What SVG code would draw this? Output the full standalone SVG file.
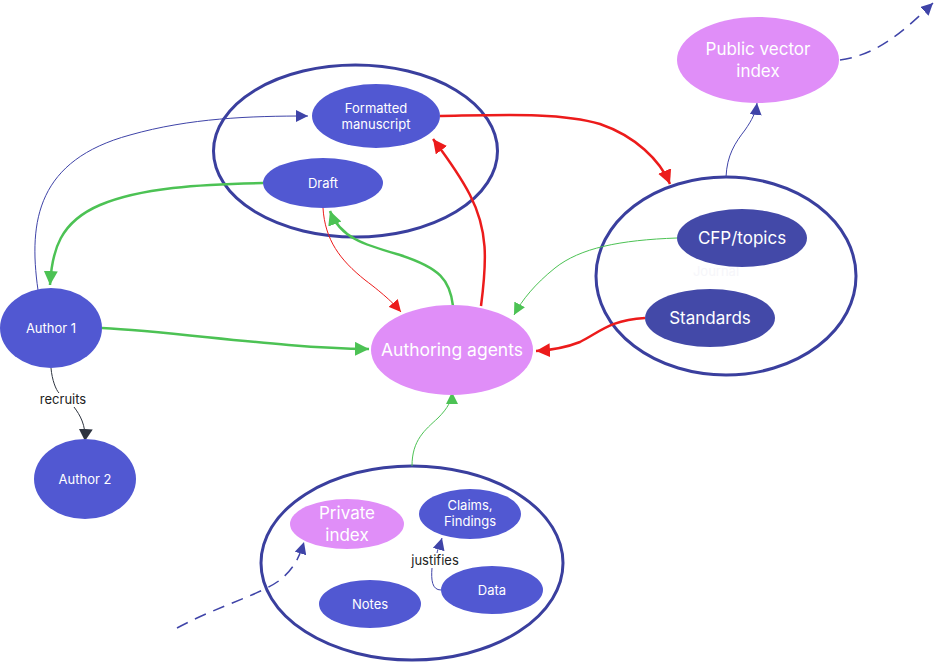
<svg xmlns="http://www.w3.org/2000/svg" width="936" height="662" viewBox="0 0 936 662">
<style>
.grp{fill:none;stroke:#3a3f9e;stroke-width:3}
.n{fill:#5158d2}
.d{fill:#4349a8}
.p{fill:#e08ef8}
.t{font-family:Inter,"Liberation Sans",sans-serif;fill:#ffffff;text-anchor:middle}
.lbl{font-family:Inter,"Liberation Sans",sans-serif;fill:#222;text-anchor:middle;font-size:13px}
.e{fill:none}
.g3{stroke:#4cc254;stroke-width:2.5}
.g1{stroke:#4cc254;stroke-width:1}
.r3{stroke:#ec1b1b;stroke-width:2.5}
.r1{stroke:#ec1b1b;stroke-width:1}
.b1{stroke:#3f44a8;stroke-width:1}
.bd{stroke:#3f44a8;stroke-width:1.5;stroke-dasharray:12 8}
.k1{stroke:#2e3440;stroke-width:1}
</style>
<defs>
<marker id="ag" markerUnits="userSpaceOnUse" markerWidth="16" markerHeight="14" refX="14" refY="7" orient="auto"><path d="M0,0 L14,7 L0,14 z" fill="#4cc254"/></marker>
<marker id="ags" markerUnits="userSpaceOnUse" markerWidth="14" markerHeight="12" refX="12" refY="6" orient="auto"><path d="M0,0 L12,6 L0,12 z" fill="#4cc254"/></marker>
<marker id="ar" markerUnits="userSpaceOnUse" markerWidth="16" markerHeight="14" refX="14" refY="7" orient="auto"><path d="M0,0 L14,7 L0,14 z" fill="#ec1b1b"/></marker>
<marker id="ars" markerUnits="userSpaceOnUse" markerWidth="14" markerHeight="12" refX="12" refY="6" orient="auto"><path d="M0,0 L12,6 L0,12 z" fill="#ec1b1b"/></marker>
<marker id="ab" markerUnits="userSpaceOnUse" markerWidth="14" markerHeight="12" refX="12" refY="6" orient="auto"><path d="M0,0 L12,6 L0,12 z" fill="#3f44a8"/></marker>
<marker id="ak" markerUnits="userSpaceOnUse" markerWidth="14" markerHeight="14" refX="12" refY="7" orient="auto"><path d="M0,0 L12,7 L0,14 z" fill="#2e3440"/></marker>
</defs>

<g id="groups">
<ellipse id="grp-workspace" class="grp" cx="355.5" cy="151" rx="142" ry="86"/>
<ellipse id="grp-journal" class="grp" cx="726" cy="276" rx="130" ry="99"/>
<ellipse id="grp-lab" class="grp" cx="412" cy="563" rx="151" ry="97"/>
<text x="716" y="276" class="t" style="font-size:13px;fill:#f6f6fa">Journal</text>
</g>

<g id="connectors">
<path class="e b1" d="M38,290 C28,220 38,160 130,135 C190,118 250,116 308,116" marker-end="url(#ab)"/>
<path class="e g3" d="M263,183 C200,184 140,188 100,205 C60,222 52,250 50,285" marker-end="url(#ag)"/>
<path class="e g3" d="M102,328 C180,332 280,348 369,349" marker-end="url(#ag)"/>
<path class="e r3" d="M440,116 C500,115 560,112 600,124 C635,136 660,160 670,184" marker-end="url(#ar)"/>
<path class="e r3" d="M481,306 C487,260 488,230 470,195 C458,172 445,155 433,139" marker-end="url(#ar)"/>
<path class="e r1" d="M323,208 C325,240 340,260 365,280 C385,295 395,305 401,312" marker-end="url(#ars)"/>
<path class="e g3" d="M453,306 C450,280 440,268 400,255 C365,245 340,238 330,211" marker-end="url(#ag)"/>
<path class="e g1" d="M677,238 C620,240 580,248 555,268 C535,284 522,300 514,315" marker-end="url(#ags)"/>
<path class="e r3" d="M645,318 C610,320 600,332 580,342 C565,348 552,350 536,351" marker-end="url(#ar)"/>
<path class="e g1" d="M412,466 C412,440 425,430 438,418 C448,408 452,400 452,392" marker-end="url(#ags)"/>
<path class="e b1" d="M726,177 C727,155 735,143 745,130 C752,120 756,112 757,103" marker-end="url(#ab)"/>
<path class="e bd" d="M840,60 C875,55 900,35 933,3" marker-end="url(#ab)"/>
<path class="e bd" d="M177,628 C220,605 260,595 280,580 C295,568 300,555 304,542" marker-end="url(#ab)"/>
<path class="e k1" d="M51,368 C52,380 56,390 59,393 M74,407 C80,415 86,425 85,441" marker-end="url(#ak)"/>
<path class="e b1" d="M441,590 C432,590 431,580 432,568 M437,553 C438,548 440,545 442,538" marker-end="url(#ab)"/>
<text x="63" y="404" class="lbl">recruits</text>
<text x="435" y="565" class="lbl">justifies</text>
</g>

<g id="n-formatted"><ellipse class="n" cx="376" cy="116" rx="64" ry="32"/><text class="t" x="376" y="113" font-size="13">Formatted</text><text class="t" x="376" y="129" font-size="13">manuscript</text></g>
<g id="n-draft"><ellipse class="n" cx="323" cy="183" rx="60" ry="25"/><text class="t" x="323" y="188" font-size="13">Draft</text></g>
<g id="n-author1"><ellipse class="n" cx="51" cy="328" rx="51" ry="40"/><text class="t" x="51" y="333" font-size="13">Author 1</text></g>
<g id="n-author2"><ellipse class="n" cx="85" cy="479" rx="51" ry="40"/><text class="t" x="85" y="484" font-size="13">Author 2</text></g>
<g id="n-agents"><ellipse class="p" cx="452" cy="350" rx="81" ry="45"/><text class="t" x="452" y="356" font-size="17.5">Authoring agents</text></g>
<g id="n-public"><ellipse class="p" cx="758" cy="60" rx="81" ry="43"/><text class="t" x="758" y="55" font-size="17">Public vector</text><text class="t" x="758" y="77" font-size="17">index</text></g>
<g id="n-cfp"><ellipse class="d" cx="742" cy="238" rx="65" ry="29"/><text class="t" x="742" y="244" font-size="17">CFP/topics</text></g>
<g id="n-standards"><ellipse class="d" cx="710" cy="318" rx="65" ry="29"/><text class="t" x="710" y="324" font-size="17">Standards</text></g>
<g id="n-private"><ellipse class="p" cx="347" cy="524" rx="57" ry="25"/><text class="t" x="347" y="519" font-size="17">Private</text><text class="t" x="347" y="541" font-size="17">index</text></g>
<g id="n-claims"><ellipse class="n" cx="470" cy="514" rx="51" ry="25"/><text class="t" x="470" y="510" font-size="13">Claims,</text><text class="t" x="470" y="526" font-size="13">Findings</text></g>
<g id="n-data"><ellipse class="n" cx="492" cy="590" rx="51" ry="24"/><text class="t" x="492" y="595" font-size="13">Data</text></g>
<g id="n-notes"><ellipse class="n" cx="370" cy="604" rx="51" ry="24"/><text class="t" x="370" y="609" font-size="13">Notes</text></g>
</svg>
